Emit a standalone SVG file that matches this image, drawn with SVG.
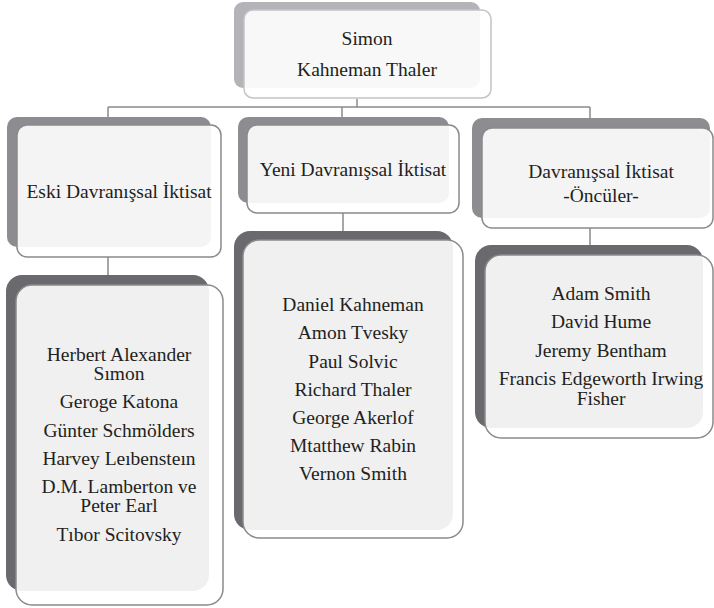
<svg xmlns="http://www.w3.org/2000/svg" width="714" height="608" viewBox="0 0 714 608" font-family="Liberation Serif, DejaVu Serif, serif">
<style>
text{font-size:19.5px;fill:#231f20;text-anchor:middle}
.conn{stroke:#8a8a8c;stroke-width:1.5;fill:none}
.b1{fill:#b4b4b8}
.b2{fill:#8d8d91}
.b3{fill:#6a6a6e}
.f{fill:#ffffff;fill-opacity:0.9;stroke:#8a8a8c;stroke-width:1.5}
.ft{fill:#ffffff;fill-opacity:0.9;stroke:#c4c4c6;stroke-width:1.5}
</style>
<rect width="714" height="608" fill="#ffffff"/>
<g id="connectors">
<path class="conn" d="M357 99V107M108 107H590M108 107V125M342 107V125M590 107V128"/>
<path class="conn" d="M108 257V285M343 213V240M590 228V255"/>
</g>
<g id="top" font-family="Liberation Serif, serif">
<rect class="b1" x="234" y="2" width="246" height="86" rx="9"/>
<rect class="ft" x="244" y="10" width="247" height="88" rx="9"/>
<text x="367" y="45">Simon</text>
<text x="367" y="76">Kahneman Thaler</text>
</g>
<g id="eski" font-family="Liberation Serif, serif">
<rect class="b2" x="7" y="117" width="204" height="130" rx="10"/>
<rect class="f" x="17" y="125" width="204" height="132" rx="10"/>
<text x="119" y="198">Eski Davranışsal İktisat</text>
</g>
<g id="yeni" font-family="Liberation Serif, serif">
<rect class="b2" x="238" y="117" width="211" height="86" rx="10"/>
<rect class="f" x="247" y="125" width="212" height="88" rx="10"/>
<text x="353" y="176">Yeni Davranışsal İktisat</text>
</g>
<g id="onculer" font-family="Liberation Serif, serif">
<rect class="b2" x="472" y="118" width="238" height="100" rx="10"/>
<rect class="f" x="482" y="128" width="231" height="100" rx="10"/>
<text x="601" y="178">Davranışsal İktisat</text>
<text x="601" y="202">-Öncüler-</text>
</g>
<g id="eski-list" font-family="Liberation Serif, serif">
<rect class="b3" x="6" y="275" width="203" height="316" rx="16"/>
<rect class="f" x="16" y="285" width="207" height="320" rx="16"/>
<text x="119" y="361">Herbert Alexander</text>
<text x="119" y="380">Sımon</text>
<text x="119" y="408">Geroge Katona</text>
<text x="119" y="437">Günter Schmölders</text>
<text x="119" y="465">Harvey Leıbensteın</text>
<text x="119" y="493">D.M. Lamberton ve</text>
<text x="119" y="512">Peter Earl</text>
<text x="119" y="541">Tıbor Scitovsky</text>
</g>
<g id="yeni-list" font-family="Liberation Serif, serif">
<rect class="b3" x="234" y="231" width="219" height="299" rx="16"/>
<rect class="f" x="243" y="240" width="220" height="298" rx="16"/>
<text x="353" y="311">Daniel Kahneman</text>
<text x="353" y="339">Amon Tvesky</text>
<text x="353" y="368">Paul Solvic</text>
<text x="353" y="396">Richard Thaler</text>
<text x="353" y="424">George Akerlof</text>
<text x="353" y="452">Mtatthew Rabin</text>
<text x="353" y="480">Vernon Smith</text>
</g>
<g id="onculer-list" font-family="Liberation Serif, serif">
<rect class="b3" x="475" y="245" width="228" height="183" rx="16"/>
<rect class="f" x="485" y="255" width="228" height="183" rx="16"/>
<text x="601" y="300">Adam Smith</text>
<text x="601" y="328">David Hume</text>
<text x="601" y="357">Jeremy Bentham</text>
<text x="601" y="385">Francis Edgeworth Irwing</text>
<text x="601" y="405">Fisher</text>
</g>
</svg>
